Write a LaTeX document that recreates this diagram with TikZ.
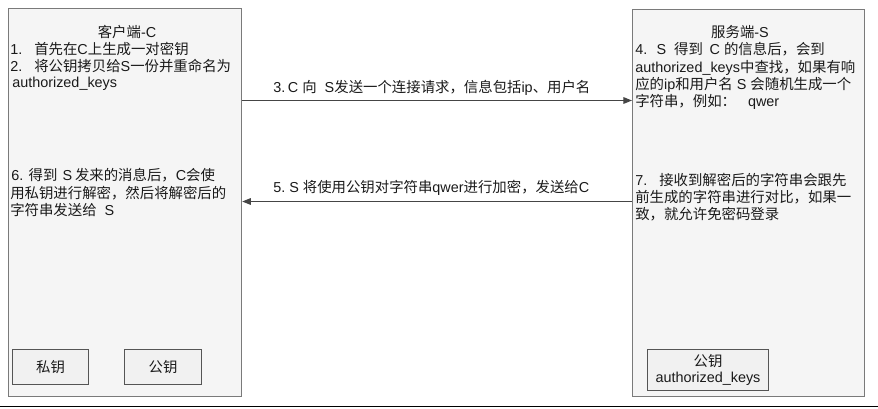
\documentclass[tikz,border=0pt]{standalone}
\usepackage{fontspec}
\setmainfont{Liberation Sans}
\newfontfamily\cjk{Noto Sans CJK SC}
\newcommand\zhx[1]{{\cjk #1}}
\usetikzlibrary{arrows.meta}
\definecolor{boxfill}{HTML}{F5F5F5}
\definecolor{boxline}{HTML}{7A7A7A}
\definecolor{smallfill}{HTML}{F1F1F1}
\definecolor{smallline}{HTML}{555555}
\definecolor{arrowcol}{HTML}{454545}
\definecolor{txt}{HTML}{1A1A1A}
\begin{document}
\begin{tikzpicture}[x=0.75pt,y=-0.75pt,
  every node/.style={font=\fontsize{10.8pt}{13pt}\selectfont, inner sep=0pt, text=txt},
  mainbox/.style={draw=boxline, fill=boxfill, line width=0.9pt, anchor=north west},
  keybox/.style={draw=smallline, fill=smallfill, line width=0.75pt, anchor=north west, align=center},
  ln/.style={anchor=base west},
  ttl/.style={anchor=base},
  arr/.style={draw=arrowcol, line width=0.8pt, -{Triangle[length=6.5pt,width=5pt]}}]
\useasboundingbox (0,0) rectangle (878,408);
% main boxes
\node[mainbox, minimum width=174.75pt, minimum height=291pt] (C) at (8,8) {};
\node[mainbox, minimum width=174pt, minimum height=290.25pt] (S) at (632,8.5) {};
% left texts
\node[ttl] (ct) at (127,37) {\zhx{客户端}-C};
\node[ln] (c1) at (10,54) {1.\hspace{9pt}\zhx{首先在}C\zhx{上生成一对密钥}};
\node[ln] (c2) at (10,71) {2.\hspace{9pt}\zhx{将公钥拷贝给}S\zhx{一份并重命名为}};
\node[ln] (c3) at (12,87.5) {authorized\_keys};
\node[ln] (c6a) at (11,180) {6.\hspace{4pt}\zhx{得到}\hspace{4pt}S\hspace{2pt}\zhx{发来的消息后，}C\zhx{会使}};
\node[ln] (c6b) at (10,198) {\zhx{用私钥进行解密，然后将解密后的}};
\node[ln] (c6c) at (10,215) {\zhx{字符串发送给}\hspace{6pt}S};
% right texts
\node[ttl] (st) at (740,37) {\zhx{服务端}-S};
\node[ln] (s1) at (635,54) {4.\hspace{7pt}S\hspace{6pt}\zhx{得到}\hspace{5pt}C\hspace{3pt}\zhx{的信息后，会到}};
\node[ln] (s2) at (635,72) {authorized\_keys\zhx{中查找，如果有响}};
\node[ln] (s3) at (635,89) {\zhx{应的}ip\zhx{和用户名}\hspace{3pt}S\hspace{3pt}\zhx{会随机生成一个}};
\node[ln] (s4) at (635,106) {\zhx{字符串，例如：}\hspace{9pt}qwer};
\node[ln] (s7a) at (635,185) {7.\hspace{9pt}\zhx{接收到解密后的字符串会跟先}};
\node[ln] (s7b) at (635,202.5) {\zhx{前生成的字符串进行对比，如果一}};
\node[ln] (s7c) at (635,219) {\zhx{致，就允许免密码登录}};
% key boxes
\node[keybox, minimum width=57pt, minimum height=26.25pt] (priv) at (12,349) {\zhx{私钥}};
\node[keybox, minimum width=57.75pt, minimum height=26.25pt] (pub) at (124,349) {\zhx{公钥}};
\node[keybox, minimum width=90.75pt, minimum height=30.75pt] (spub) at (647,349) {\zhx{公钥}\\[-1.5pt]authorized\_keys};
% arrows
\coordinate (m3) at (0,100.5);
\coordinate (m5) at (0,201.5);
\draw[arr] (C.east |- m3) -- (S.west |- m3);
\draw[arr] (S.west |- m5) -- (C.east |- m5);
\node[ln] (l3) at (273,92) {3.\hspace{2pt}C\hspace{3pt}\zhx{向}\hspace{6pt}S\zhx{发送一个连接请求，信息包括}ip\zhx{、用户名}};
\node[ln] (l5) at (273,192.5) {5.\hspace{3pt}S\hspace{3pt}\zhx{将使用公钥对字符串}qwer\zhx{进行加密，发送给}C};
% bottom rule
\draw[line width=1.4pt, black] (0,406.5) -- (878,406.5);
\end{tikzpicture}
\end{document}
